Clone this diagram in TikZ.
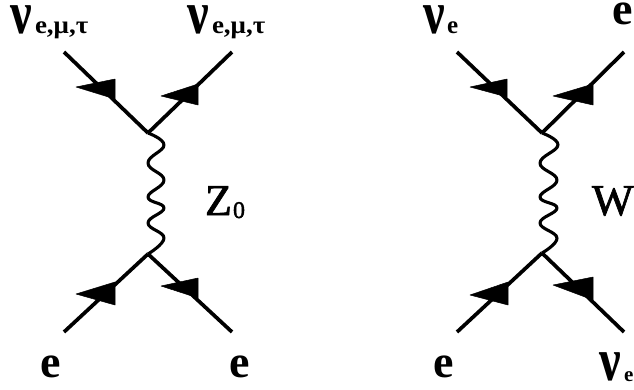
\documentclass[tikz,border=0pt]{standalone}
\usepackage{fontspec}
\setmainfont{Liberation Serif}
\newfontfamily\capfont[FakeBold=1.6]{Liberation Serif}
\newcommand{\fsz}[1]{\fontsize{#1}{#1}\selectfont}
\newcommand{\nutall}{\scalebox{1.1}[1.38]{ν}}
\tikzset{
  fermion/.style={line width=3.7pt,line cap=butt},
  boson/.style={line width=3.1pt,line join=round},
  head/.style={fill=black,draw=black,line width=.5pt,line join=round},
  lab/.style={inner sep=0pt,outer sep=0pt,anchor=base west},
  bigtext/.style={lab,font=\bfseries\fsz{46}},
  greektext/.style={lab,font=\bfseries\fsz{44}},
  subtext/.style={lab,font=\bfseries\fsz{25}},
  captext/.style={lab,font=\capfont\fsz{44}}
}
\begin{document}
\begin{tikzpicture}[x=1pt,y=-1pt]
\useasboundingbox (0,0) rectangle (634,389);
\clip (0,0) rectangle (634,389);
\fill[white] (0,0) rectangle (634,389);
% left diagram
\coordinate (a1) at (64,52); \coordinate (a2) at (232,52);
\coordinate (a3) at (64,332); \coordinate (a4) at (232,332);
\coordinate (av) at (148,133); \coordinate (aw) at (148,254);
\draw[fermion] (a1) -- (av);
\draw[fermion] (a2) -- (av);
\draw[fermion] (a3) -- (aw);
\draw[fermion] (a4) -- (aw);
\fill[head] (76,87) -- (115,79) -- (115,99) -- cycle;
\fill[head] (161,96) -- (198,84) -- (198,105) -- cycle;
\fill[head] (76,294) -- (115,282) -- (115,305) -- cycle;
\fill[head] (161,286) -- (198,278) -- (198,298) -- cycle;
\draw[boson] plot[smooth,tension=.75] coordinates {(av) (164,145) (148,163) (164,180) (148,197) (164,208) (148,223) (164,238) (aw)};
% right diagram
\coordinate (b1) at (457,52); \coordinate (b2) at (624,52);
\coordinate (b3) at (457,332); \coordinate (b4) at (624,332);
\coordinate (bv) at (542,133); \coordinate (bw) at (542,253);
\draw[fermion] (b1) -- (bv);
\draw[fermion] (b2) -- (bv);
\draw[fermion] (b3) -- (bw);
\draw[fermion] (b4) -- (bw);
\fill[head] (470,87) -- (507,79) -- (507,97) -- cycle;
\fill[head] (553,96) -- (593,84) -- (593,105) -- cycle;
\fill[head] (470,295) -- (508,282) -- (508,305) -- cycle;
\fill[head] (553,285) -- (593,277) -- (593,300) -- cycle;
\draw[boson] plot[smooth,tension=.75] coordinates {(bv) (558,145) (540,163) (557,180) (540,197) (557,208) (540,223) (557,238) (bw)};
% labels
\node[greektext] (n1) at (10,33) {\nutall};
\node[subtext] (s1) at (35,33) {\scalebox{1.08}[1]{e,μ,τ}};
\node[greektext] (n2) at (187,33) {\nutall};
\node[subtext] (s2) at (212,33) {\scalebox{1.08}[1]{e,μ,τ}};
\node[bigtext] (e1) at (40,377) {e};
\node[bigtext] (e2) at (229,377) {e};
\node[captext] (z) at (205,215) {Z};
\node[lab,font=\capfont\fsz{24}] (z0) at (233,218) {0};
\node[greektext] (n3) at (423,33) {\nutall};
\node[subtext] (s3) at (447,33) {e};
\node[bigtext] (e3) at (612,24) {e};
\node[captext] (w) at (592,215) {W};
\node[bigtext] (e4) at (433,377) {e};
\node[greektext] (n4) at (599,380) {\nutall};
\node[lab,font=\bfseries\fsz{21}] (s4) at (624,381) {e};
\end{tikzpicture}
\end{document}
